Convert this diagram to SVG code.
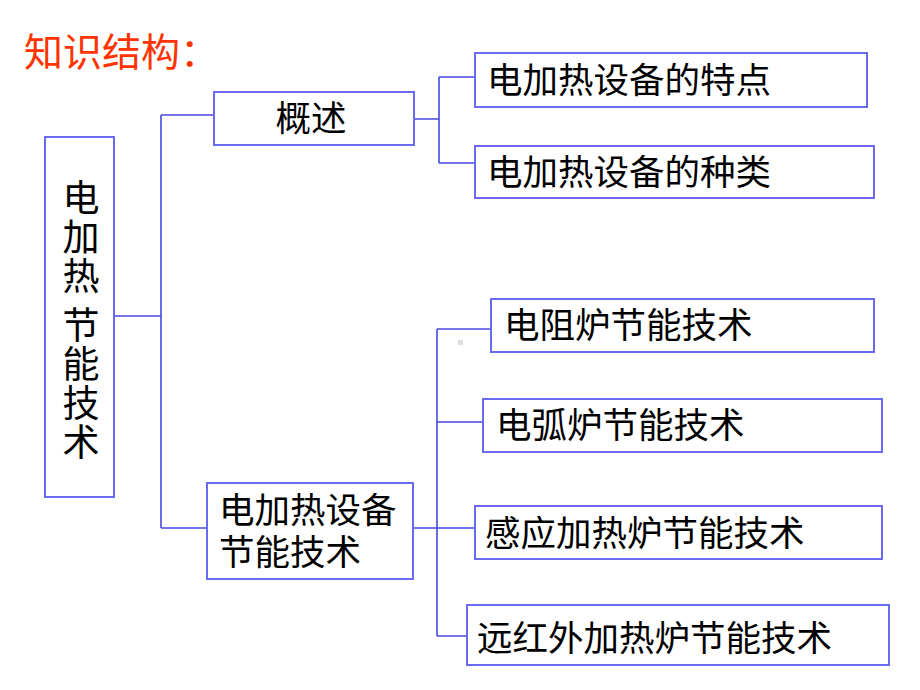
<svg xmlns="http://www.w3.org/2000/svg" width="920" height="690" viewBox="0 0 920 690">
<style>
.box{fill:#fff;stroke:#6a6af0;stroke-width:2}
.ln{fill:none;stroke:#4848e0;stroke-width:1.6}
.t{font-family:"Noto Sans CJK SC","Noto Sans CJK TC",sans-serif;font-size:35.5px;fill:#000}
.v{font-family:"Noto Sans CJK SC","Noto Sans CJK TC",sans-serif;font-size:37px;fill:#000;writing-mode:vertical-rl;text-orientation:upright;letter-spacing:2px}
.title{font-family:"Noto Sans CJK SC",sans-serif;font-size:39px;fill:#ff3300}
</style>
<rect width="920" height="690" fill="#fff"/>
<text class="title" x="24" y="66">知识结构：</text>
<g id="connectors">
<path class="ln" d="M114 316H161M161 115V528M161 115H214M161 528H207"/>
<path class="ln" d="M414 119H439M439 77V163M439 77H475M439 163H475"/>
<path class="ln" d="M413 528H437M437 329V636M437 329H491M437 422H483M437 528H475M437 636H467"/>
</g>
<rect x="458" y="340" width="5" height="5" fill="#ddd"/>
<g id="root">
<rect class="box" x="45" y="137" width="69" height="360"/>
<text class="v" x="81" y="179">电加热<tspan dy="10">节能技术</tspan></text>
</g>
<g id="overview">
<rect class="box" x="214" y="92" width="200" height="53"/>
<text class="t" x="311" y="131" text-anchor="middle">概述</text>
</g>
<g id="features">
<rect class="box" x="475" y="53" width="392" height="54"/>
<text class="t" x="487" y="93">电加热设备的特点</text>
</g>
<g id="kinds">
<rect class="box" x="475" y="146" width="399" height="52"/>
<text class="t" x="487" y="185">电加热设备的种类</text>
</g>
<g id="tech">
<rect class="box" x="207" y="483" width="206" height="96"/>
<text class="t" x="219" y="523">电加热设备</text>
<text class="t" x="219" y="565">节能技术</text>
</g>
<g id="resist">
<rect class="box" x="491" y="299" width="383" height="53"/>
<text class="t" x="504" y="338">电阻炉节能技术</text>
</g>
<g id="arc">
<rect class="box" x="483" y="399" width="399" height="53"/>
<text class="t" x="496" y="438">电弧炉节能技术</text>
</g>
<g id="induction">
<rect class="box" x="475" y="506" width="407" height="53"/>
<text class="t" x="485" y="546">感应加热炉节能技术</text>
</g>
<g id="infrared">
<rect class="box" x="467" y="605" width="422" height="60"/>
<text class="t" x="477" y="651">远红外加热炉节能技术</text>
</g>
</svg>
